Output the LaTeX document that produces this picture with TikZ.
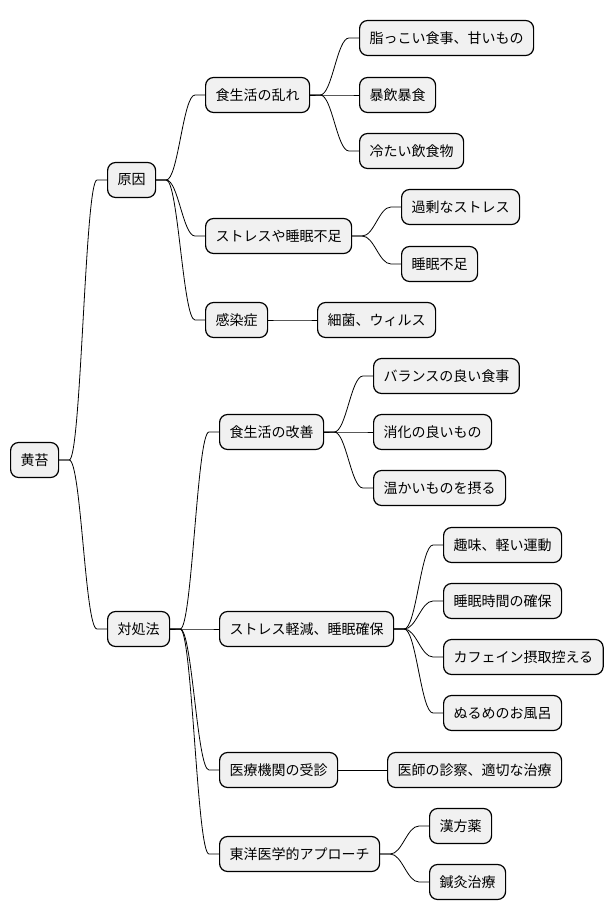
\documentclass[tikz,border=0pt]{standalone}
\usepackage{fontspec}
\newfontfamily\jpfont{Noto Sans CJK JP}
\usetikzlibrary{positioning}

\definecolor{topicfill}{HTML}{F1F1F1}

\begin{document}
\begin{tikzpicture}[
  x=0.75pt, y=-0.75pt,
  font=\jpfont\fontsize{10.5}{12}\selectfont,
  topic/.style={draw, fill=topicfill, rounded corners=6pt, line width=0.9pt,
    anchor=west, inner xsep=7.5pt, inner ysep=0pt, minimum height=26.25pt},
  link/.style={line width=0.6pt},
]
\useasboundingbox (0,0) rectangle (614,921);

% root and first level
\node[topic] (root) at (10,460) {黄苔};
\node[topic] (cause) at (107,180) {原因};
\node[topic] (cure) at (107,629) {対処法};

% causes
\node[topic] (diet) at (205,95) {食生活の乱れ};
\node[topic] (stress) at (205,236) {ストレスや睡眠不足};
\node[topic] (infect) at (205,320) {感染症};
\node[topic] (fatty) at (359,38) {脂っこい食事、甘いもの};
\node[topic] (binge) at (359,95) {暴飲暴食};
\node[topic] (cold) at (359,151) {冷たい飲食物};
\node[topic] (overstress) at (401,207) {過剰なストレス};
\node[topic] (nosleep) at (401,264) {睡眠不足};
\node[topic] (germs) at (317,320) {細菌、ウィルス};

% remedies
\node[topic] (betterdiet) at (219,432) {食生活の改善};
\node[topic] (relax) at (219,629) {ストレス軽減、睡眠確保};
\node[topic] (clinic) at (219,770) {医療機関の受診};
\node[topic] (kampo) at (219,854) {東洋医学的アプローチ};
\node[topic] (balance) at (373,376) {バランスの良い食事};
\node[topic] (digest) at (373,432) {消化の良いもの};
\node[topic] (warm) at (373,488) {温かいものを摂る};
\node[topic] (hobby) at (443,545) {趣味、軽い運動};
\node[topic] (sleeptime) at (443,601) {睡眠時間の確保};
\node[topic] (caffeine) at (443,657) {カフェイン摂取控える};
\node[topic] (bath) at (443,713) {ぬるめのお風呂};
\node[topic] (doctor) at (387,770) {医師の診察、適切な治療};
\node[topic] (herbs) at (429,826) {漢方薬};
\node[topic] (acup) at (429,882) {鍼灸治療};

\foreach \p/\c in {root/cause, root/cure,
    cause/diet, cause/stress, cause/infect,
    diet/fatty, diet/binge, diet/cold,
    stress/overstress, stress/nosleep, infect/germs,
    cure/betterdiet, cure/relax, cure/clinic, cure/kampo,
    betterdiet/balance, betterdiet/digest, betterdiet/warm,
    relax/hobby, relax/sleeptime, relax/caffeine, relax/bath,
    clinic/doctor, kampo/herbs, kampo/acup}
  \draw[link] (\p.east) -- ++(10,0) .. controls +(12,0) and +(-12,0) .. ([xshift=-7.5pt]\c.west) -- (\c.west);
\end{tikzpicture}
\end{document}
